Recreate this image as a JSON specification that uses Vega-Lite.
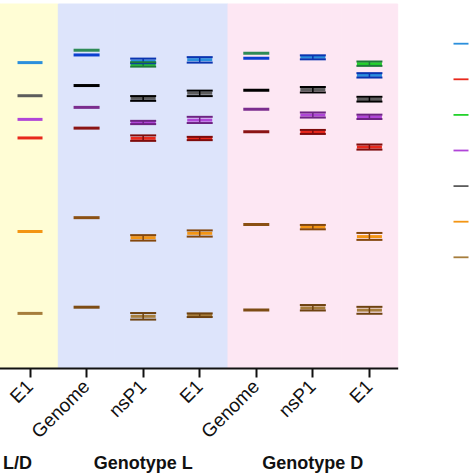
{
  "$schema": "https://vega.github.io/schema/vega-lite/v6.json",
  "width": 398,
  "height": 364,
  "autosize": {"type": "none"},
  "padding": {"left": 0, "top": 4, "right": 76, "bottom": 106},
  "config": {"view": {"stroke": null}, "font": "Liberation Sans"},
  "datasets": {
    "panels": [
      {"column": "L/D Genome", "genotype": "L/D"},
      {"column": "L/D nsP1", "genotype": "L/D"},
      {"column": "L/D E1", "genotype": "L/D"},
      {"column": "L Genome", "genotype": "L"},
      {"column": "L nsP1", "genotype": "L"},
      {"column": "L E1", "genotype": "L"},
      {"column": "D Genome", "genotype": "D"},
      {"column": "D nsP1", "genotype": "D"},
      {"column": "D E1", "genotype": "D"}
    ],
    "groups": [
      {"column": "L/D nsP1", "label": "Genotype L/D"},
      {"column": "L nsP1", "label": "Genotype L"},
      {"column": "D nsP1", "label": "Genotype D"}
    ],
    "measures": [
      {"column": "L/D E1", "target": "E1", "series": "Series 1", "mean": 8.39},
      {"column": "L/D E1", "target": "E1", "series": "Series 5", "mean": 7.48},
      {"column": "L/D E1", "target": "E1", "series": "Series 4", "mean": 6.83},
      {"column": "L/D E1", "target": "E1", "series": "Series 2", "mean": 6.32},
      {"column": "L/D E1", "target": "E1", "series": "Series 6", "mean": 3.75},
      {"column": "L/D E1", "target": "E1", "series": "Series 7", "mean": 1.50},

      {"column": "L Genome", "target": "Genome", "series": "Series 3", "mean": 8.73},
      {"column": "L Genome", "target": "Genome", "series": "Series 1", "mean": 8.60},
      {"column": "L Genome", "target": "Genome", "series": "Series 5", "mean": 7.76},
      {"column": "L Genome", "target": "Genome", "series": "Series 4", "mean": 7.16},
      {"column": "L Genome", "target": "Genome", "series": "Series 2", "mean": 6.59},
      {"column": "L Genome", "target": "Genome", "series": "Series 6", "mean": 4.13},
      {"column": "L Genome", "target": "Genome", "series": "Series 7", "mean": 1.67},

      {"column": "L nsP1", "target": "nsP1", "series": "Series 3", "mean": 8.34, "lo": 8.28, "hi": 8.40},
      {"column": "L nsP1", "target": "nsP1", "series": "Series 1", "mean": 8.43, "lo": 8.37, "hi": 8.50},
      {"column": "L nsP1", "target": "nsP1", "series": "Series 5", "mean": 7.41, "lo": 7.34, "hi": 7.47},
      {"column": "L nsP1", "target": "nsP1", "series": "Series 4", "mean": 6.74, "lo": 6.70, "hi": 6.79},
      {"column": "L nsP1", "target": "nsP1", "series": "Series 2", "mean": 6.31, "lo": 6.24, "hi": 6.39},
      {"column": "L nsP1", "target": "nsP1", "series": "Series 6", "mean": 3.58, "lo": 3.50, "hi": 3.65},
      {"column": "L nsP1", "target": "nsP1", "series": "Series 7", "mean": 1.42, "lo": 1.33, "hi": 1.51},

      {"column": "L E1", "target": "E1", "series": "Series 1", "mean": 8.47, "lo": 8.39, "hi": 8.54},
      {"column": "L E1", "target": "E1", "series": "Series 5", "mean": 7.55, "lo": 7.47, "hi": 7.62},
      {"column": "L E1", "target": "E1", "series": "Series 4", "mean": 6.81, "lo": 6.73, "hi": 6.90},
      {"column": "L E1", "target": "E1", "series": "Series 2", "mean": 6.31, "lo": 6.26, "hi": 6.35},
      {"column": "L E1", "target": "E1", "series": "Series 6", "mean": 3.70, "lo": 3.61, "hi": 3.78},
      {"column": "L E1", "target": "E1", "series": "Series 7", "mean": 1.45, "lo": 1.40, "hi": 1.50},

      {"column": "D Genome", "target": "Genome", "series": "Series 3", "mean": 8.65},
      {"column": "D Genome", "target": "Genome", "series": "Series 1", "mean": 8.51},
      {"column": "D Genome", "target": "Genome", "series": "Series 5", "mean": 7.63},
      {"column": "D Genome", "target": "Genome", "series": "Series 4", "mean": 7.11},
      {"column": "D Genome", "target": "Genome", "series": "Series 2", "mean": 6.49},
      {"column": "D Genome", "target": "Genome", "series": "Series 6", "mean": 3.94},
      {"column": "D Genome", "target": "Genome", "series": "Series 7", "mean": 1.59},

      {"column": "D nsP1", "target": "nsP1", "series": "Series 1", "mean": 8.54, "lo": 8.48, "hi": 8.59},
      {"column": "D nsP1", "target": "nsP1", "series": "Series 5", "mean": 7.65, "lo": 7.57, "hi": 7.72},
      {"column": "D nsP1", "target": "nsP1", "series": "Series 4", "mean": 6.95, "lo": 6.88, "hi": 7.02},
      {"column": "D nsP1", "target": "nsP1", "series": "Series 2", "mean": 6.48, "lo": 6.43, "hi": 6.54},
      {"column": "D nsP1", "target": "nsP1", "series": "Series 6", "mean": 3.87, "lo": 3.81, "hi": 3.93},
      {"column": "D nsP1", "target": "nsP1", "series": "Series 7", "mean": 1.65, "lo": 1.58, "hi": 1.73},

      {"column": "D E1", "target": "E1", "series": "Series 3", "mean": 8.36, "lo": 8.30, "hi": 8.42},
      {"column": "D E1", "target": "E1", "series": "Series 1", "mean": 8.04, "lo": 7.98, "hi": 8.10},
      {"column": "D E1", "target": "E1", "series": "Series 5", "mean": 7.38, "lo": 7.32, "hi": 7.45},
      {"column": "D E1", "target": "E1", "series": "Series 4", "mean": 6.90, "lo": 6.84, "hi": 6.96},
      {"column": "D E1", "target": "E1", "series": "Series 2", "mean": 6.07, "lo": 6.00, "hi": 6.14},
      {"column": "D E1", "target": "E1", "series": "Series 6", "mean": 3.61, "lo": 3.52, "hi": 3.71},
      {"column": "D E1", "target": "E1", "series": "Series 7", "mean": 1.59, "lo": 1.49, "hi": 1.68}
    ]
  },
  "encoding": {
    "x": {
      "field": "column",
      "type": "nominal",
      "scale": {
        "type": "band",
        "domain": ["L/D Genome", "L/D nsP1", "L/D E1", "L Genome", "L nsP1", "L E1", "D Genome", "D nsP1", "D E1"],
        "range": [-111.4, 397.7],
        "paddingInner": 0,
        "paddingOuter": 0
      },
      "axis": {
        "title": null,
        "labelExpr": "split(datum.value, ' ')[1]",
        "labelAngle": -45,
        "labelAlign": "right",
        "labelBaseline": "middle",
        "labelFontSize": 19,
        "labelColor": "#111111",
        "labelPadding": 6,
        "tickSize": 9,
        "tickWidth": 2,
        "tickColor": "#111111",
        "domainWidth": 2,
        "domainColor": "#111111",
        "grid": false
      }
    }
  },
  "resolve": {"scale": {"color": "independent"}},
  "layer": [
    {
      "data": {"name": "panels"},
      "mark": {"type": "rect", "strokeWidth": 1},
      "encoding": {
        "y": {"datum": 10, "type": "quantitative", "scale": {"domain": [0, 10], "nice": false, "zero": false}, "axis": null},
        "y2": {"datum": 0},
        "color": {
          "field": "genotype",
          "type": "nominal",
          "scale": {"domain": ["L/D", "L", "D"], "range": ["#fffdd5", "#dde4fb", "#fde7f3"]},
          "legend": null
        },
        "stroke": {
          "field": "genotype",
          "type": "nominal",
          "scale": {"domain": ["L/D", "L", "D"], "range": ["#fffdd5", "#dde4fb", "#fde7f3"]},
          "legend": null
        }
      }
    },
    {
      "data": {"name": "measures"},
      "transform": [{"filter": "datum.target != 'Genome'"}],
      "mark": {"type": "tick", "thickness": 3, "size": 25, "opacity": 1},
      "encoding": {
        "y": {"field": "mean", "type": "quantitative", "scale": {"domain": [0, 10], "nice": false, "zero": false}, "axis": null},
        "color": {
          "field": "series",
          "type": "nominal",
          "scale": {
            "domain": ["Series 1", "Series 2", "Series 3", "Series 4", "Series 5", "Series 6", "Series 7"],
            "range": ["#2b8fdc", "#e8281c", "#24d22c", "#b045d8", "#5c5c5c", "#f39514", "#a67d3c"]
          },
          "legend": {
            "orient": "none",
            "legendX": 446,
            "legendY": 24.7,
            "title": null,
            "padding": 0,
            "symbolType": "M-0.5,-0.06H0.5V0.06H-0.5Z",
            "symbolSize": 900,
            "symbolStrokeWidth": 0,
            "symbolOpacity": 1,
            "rowPadding": 12.6,
            "labelFontSize": 16,
            "labelColor": "#111111"
          }
        }
      }
    },
    {
      "data": {"name": "measures"},
      "transform": [{"filter": "datum.target == 'Genome'"}],
      "mark": {"type": "tick", "thickness": 3, "size": 26, "opacity": 1},
      "encoding": {
        "y": {"field": "mean", "type": "quantitative", "scale": {"domain": [0, 10], "nice": false, "zero": false}, "axis": null},
        "color": {
          "field": "series",
          "type": "nominal",
          "scale": {
            "domain": ["Series 1", "Series 2", "Series 3", "Series 4", "Series 5", "Series 6", "Series 7"],
            "range": ["#0b3fd0", "#8b1414", "#2e8b57", "#7b2d8e", "#000000", "#8b5013", "#7d4c14"]
          },
          "legend": null
        }
      }
    },
    {
      "data": {"name": "measures"},
      "transform": [{"filter": "isValid(datum.lo)"}],
      "mark": {"type": "rule", "strokeWidth": 1.5},
      "encoding": {
        "y": {"field": "lo", "type": "quantitative", "scale": {"domain": [0, 10], "nice": false, "zero": false}, "axis": null},
        "y2": {"field": "hi"},
        "color": {
          "field": "series",
          "type": "nominal",
          "scale": {
            "domain": ["Series 1", "Series 2", "Series 3", "Series 4", "Series 5", "Series 6", "Series 7"],
            "range": ["#0a34b0", "#7e0c0c", "#1f7a3a", "#6e2384", "#000000", "#84470c", "#6e4210"]
          },
          "legend": null
        }
      }
    },
    {
      "data": {"name": "measures"},
      "transform": [{"filter": "isValid(datum.lo)"}],
      "mark": {"type": "tick", "thickness": 2, "size": 26, "opacity": 1},
      "encoding": {
        "y": {"field": "lo", "type": "quantitative", "scale": {"domain": [0, 10], "nice": false, "zero": false}, "axis": null},
        "color": {
          "field": "series",
          "type": "nominal",
          "scale": {
            "domain": ["Series 1", "Series 2", "Series 3", "Series 4", "Series 5", "Series 6", "Series 7"],
            "range": ["#0a34b0", "#7e0c0c", "#1f7a3a", "#6e2384", "#000000", "#84470c", "#6e4210"]
          },
          "legend": null
        }
      }
    },
    {
      "data": {"name": "measures"},
      "transform": [{"filter": "isValid(datum.hi)"}],
      "mark": {"type": "tick", "thickness": 2, "size": 26, "opacity": 1},
      "encoding": {
        "y": {"field": "hi", "type": "quantitative", "scale": {"domain": [0, 10], "nice": false, "zero": false}, "axis": null},
        "color": {
          "field": "series",
          "type": "nominal",
          "scale": {
            "domain": ["Series 1", "Series 2", "Series 3", "Series 4", "Series 5", "Series 6", "Series 7"],
            "range": ["#0a34b0", "#7e0c0c", "#1f7a3a", "#6e2384", "#000000", "#84470c", "#6e4210"]
          },
          "legend": null
        }
      }
    },
    {
      "data": {"name": "groups"},
      "mark": {"type": "text", "fontSize": 18, "fontWeight": "bold", "align": "center", "baseline": "alphabetic", "color": "#111111"},
      "encoding": {
        "y": {"datum": -2.775, "type": "quantitative", "scale": {"domain": [0, 10], "nice": false, "zero": false}, "axis": null},
        "text": {"field": "label"}
      }
    }
  ]
}
